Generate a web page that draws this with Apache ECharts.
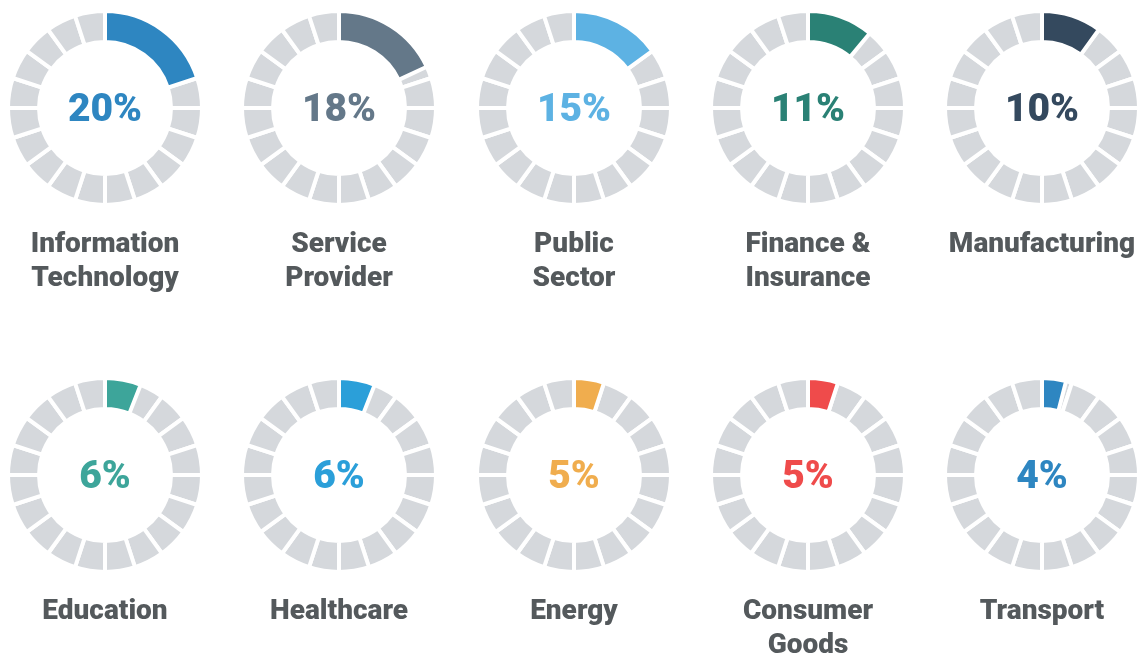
<!DOCTYPE html>
<html>
<head>
<meta charset="utf-8">
<script src="https://cdn.jsdelivr.net/npm/echarts@6/dist/echarts.min.js"></script>
<style>
html,body{margin:0;padding:0;background:#fff;}
#main{width:1137px;height:653px;}
</style>
</head>
<body>
<div id="main"></div>
<script>
// Data
const categories = [
  'Information\nTechnology', 'Service\nProvider', 'Public\nSector', 'Finance &\nInsurance', 'Manufacturing',
  'Education', 'Healthcare', 'Energy', 'Consumer\nGoods', 'Transport'
];
const values = [20, 18, 15, 11, 10, 6, 6, 5, 5, 4];
const segmentCount = 20;

// Styles
const palette = ['#2e86c1', '#647889', '#5db2e3', '#2a8175', '#34495e',
                 '#3da59a', '#2b9fd9', '#f0ad4e', '#ef4b4b', '#2e86c1'];
const ringGray = '#d5d8dc';
const labelColor = '#54595c';

const colX = [105, 339, 574, 808, 1042];
const rowY = [108, 475];
const labelTop = [228, 595];

const series = [];
const graphics = [];
values.forEach((v, i) => {
  const cx = colX[i % 5];
  const cy = rowY[Math.floor(i / 5)];
  const segs = [];
  for (let k = 0; k < segmentCount; k++) segs.push({value: 1, name: 's' + k});
  series.push({
    type: 'pie', silent: true, animation: false,
    center: [cx, cy], radius: [66, 97],
    startAngle: 90, clockwise: true, padAngle: 0, minAngle: 0,
    label: {show: false}, labelLine: {show: false},
    itemStyle: {color: ringGray, borderColor: '#fff', borderWidth: 4},
    data: segs
  });
  series.push({
    type: 'pie', silent: true, animation: false,
    center: [cx, cy], radius: [66, 97],
    startAngle: 90, clockwise: true, padAngle: 0,
    label: {show: false}, labelLine: {show: false},
    data: [
      {value: v, name: 'v', itemStyle: {color: palette[i], borderColor: '#fff', borderWidth: 4}},
      {value: 100 - v, name: 'rest', itemStyle: {color: 'rgba(0,0,0,0)', borderWidth: 0}}
    ]
  });
  graphics.push({
    type: 'text', x: cx, y: cy + 3, silent: true,
    style: {
      text: v + '%', align: 'center', verticalAlign: 'middle',
      font: '900 39px Roboto', fill: palette[i]
    }
  });
  graphics.push({
    type: 'text', x: cx, y: labelTop[Math.floor(i / 5)], silent: true,
    style: {
      text: categories[i], align: 'center', verticalAlign: 'top',
      font: '900 28px Roboto', fill: labelColor, lineHeight: 34
    }
  });
});

const chart = echarts.init(document.getElementById('main'));
chart.setOption({
  backgroundColor: '#fff',
  animation: false,
  series: series,
  graphic: graphics
});
</script>
</body>
</html>
